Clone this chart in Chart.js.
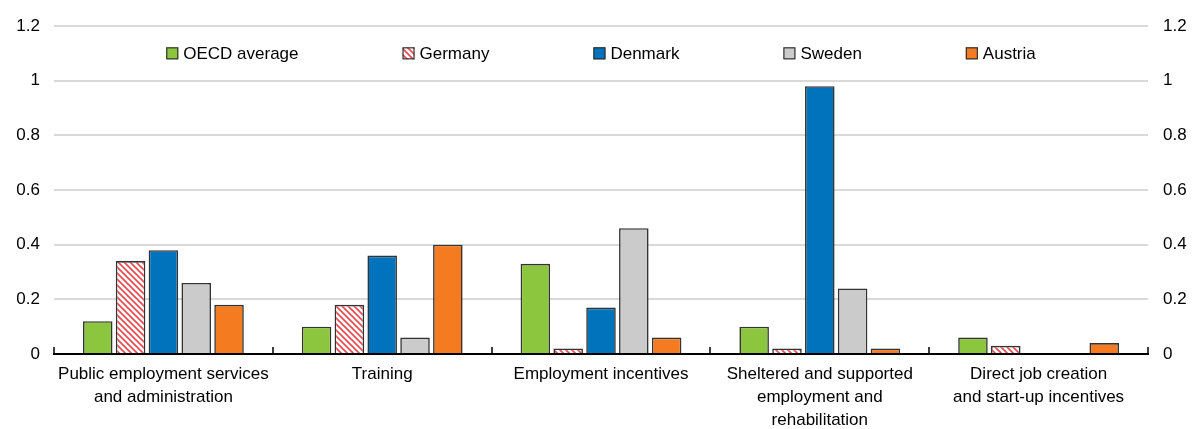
<!DOCTYPE html>
<html>
<head>
<meta charset="utf-8">
<script src="https://cdn.jsdelivr.net/npm/chart.js@4/dist/chart.umd.min.js"></script>
<style>
  html, body { margin: 0; padding: 0; background: #fff; }
  #wrap { width: 1193px; height: 429px; }
</style>
</head>
<body>
<div id="wrap"><canvas id="chart" width="1193" height="429"></canvas></div>
<script>
var categories = [
  ["Public employment services", "and administration"],
  "Training",
  "Employment incentives",
  ["Sheltered and supported", "employment and", "rehabilitation"],
  ["Direct job creation", "and start-up incentives"]
];
var oecd    = [0.12, 0.10, 0.33, 0.10, 0.06];
var germany = [0.34, 0.18, 0.02, 0.02, 0.03];
var denmark = [0.38, 0.36, 0.17, 0.98, null];
var sweden  = [0.26, 0.06, 0.46, 0.24, null];
var austria = [0.18, 0.40, 0.06, 0.02, 0.04];
var yTicks = [0, 0.2, 0.4, 0.6, 0.8, 1, 1.2];

var FONT = "'Liberation Sans', Arial, sans-serif";

// red diagonal hatch for Germany
function hatch() {
  var c = document.createElement("canvas");
  c.width = 6; c.height = 6;
  var g = c.getContext("2d");
  g.fillStyle = "#ffffff";
  g.fillRect(0, 0, 6, 6);
  g.strokeStyle = "#e8474c";
  g.lineWidth = 1.6;
  g.beginPath();
  g.moveTo(-1, -1); g.lineTo(7, 7);
  g.moveTo(-4, 2); g.lineTo(4, 10);
  g.moveTo(2, -4); g.lineTo(10, 4);
  g.stroke();
  return g.createPattern(c, "repeat");
}
var germanyFill = hatch();

function ds(label, data, fill) {
  return {
    label: label,
    data: data,
    backgroundColor: fill,
    borderColor: "#333333",
    borderWidth: 1.6,
    categoryPercentage: 0.75,
    barPercentage: 0.9
  };
}

// legend drawn inside the plot, between 1.2 and 1
var innerLegend = {
  id: "innerLegend",
  afterDraw: function(chart) {
    var ctx = chart.ctx, area = chart.chartArea;
    var items = chart.data.datasets;
    var box = 12, gapText = 5, gapItem = 104;
    ctx.save();
    ctx.font = "17px " + FONT;
    var total = 0, widths = [];
    items.forEach(function(d, i) {
      var w = box + gapText + ctx.measureText(d.label).width;
      widths.push(w);
      total += w + (i < items.length - 1 ? gapItem : 0);
    });
    var x = (area.left + area.right) / 2 - total / 2;
    var y = chart.scales.y.getPixelForValue(1.1);
    items.forEach(function(d, i) {
      ctx.fillStyle = d.backgroundColor;
      ctx.fillRect(x, y - box / 2, box, box);
      ctx.strokeStyle = "#333";
      ctx.lineWidth = 1.2;
      ctx.strokeRect(x + 0.5, y - box / 2 + 0.5, box - 1, box - 1);
      ctx.fillStyle = "#000";
      ctx.textBaseline = "middle";
      ctx.fillText(d.label, x + box + gapText, y + 1);
      x += widths[i] + gapItem;
    });
    ctx.restore();
  }
};

// short upward tick marks at the category boundaries
var catTicks = {
  id: "catTicks",
  afterDraw: function(chart) {
    var ctx = chart.ctx, xs = chart.scales.x, area = chart.chartArea;
    var n = chart.data.labels.length;
    var half = (xs.getPixelForValue(1) - xs.getPixelForValue(0)) / 2;
    ctx.save();
    ctx.strokeStyle = "#000";
    ctx.lineWidth = 1.5;
    ctx.beginPath();
    for (var i = 0; i <= n; i++) {
      var px = Math.round(xs.getPixelForValue(0) - half + i * half * 2);
      ctx.moveTo(px, area.bottom - 1);
      ctx.lineTo(px, area.bottom - 7);
    }
    ctx.stroke();
    ctx.restore();
  }
};

new Chart(document.getElementById("chart"), {
  type: "bar",
  data: {
    labels: categories,
    datasets: [
      ds("OECD average", oecd, "#8cc63f"),
      ds("Germany", germany, germanyFill),
      ds("Denmark", denmark, "#0073bc"),
      ds("Sweden", sweden, "#cbcbcb"),
      ds("Austria", austria, "#f47b20")
    ]
  },
  options: {
    responsive: false,
    animation: false,
    layout: { padding: { top: 26, bottom: 0, left: 0, right: 0 } },
    plugins: {
      legend: { display: false },
      tooltip: { enabled: false }
    },
    scales: {
      x: {
        grid: { display: false },
        border: { display: true, color: "#000", width: 2 },
        ticks: {
          color: "#000",
          font: { family: FONT, size: 17, lineHeight: 1.35 },
          padding: 1,
          maxRotation: 0,
          autoSkip: false
        },
        afterFit: function(s) { s.height = 75; }
      },
      y: {
        position: "left",
        min: 0, max: 1.2,
        afterBuildTicks: function(s) { s.ticks = yTicks.map(function(v) { return { value: v }; }); },
        grid: { color: "#d9d9d9", lineWidth: 2, drawTicks: false },
        border: { display: false },
        ticks: {
          color: "#000",
          padding: 14,
          font: { family: FONT, size: 17 },
          callback: function(v) { return String(Math.round(v * 10) / 10); }
        },
        afterFit: function(s) { s.width = 54; }
      },
      y2: {
        position: "right",
        min: 0, max: 1.2,
        afterBuildTicks: function(s) { s.ticks = yTicks.map(function(v) { return { value: v }; }); },
        grid: { display: false, drawTicks: false },
        border: { display: false },
        ticks: {
          color: "#000",
          padding: 15,
          font: { family: FONT, size: 17 },
          callback: function(v) { return String(Math.round(v * 10) / 10); }
        },
        afterFit: function(s) { s.width = 45; }
      }
    }
  },
  plugins: [innerLegend, catTicks]
});
</script>
</body>
</html>
